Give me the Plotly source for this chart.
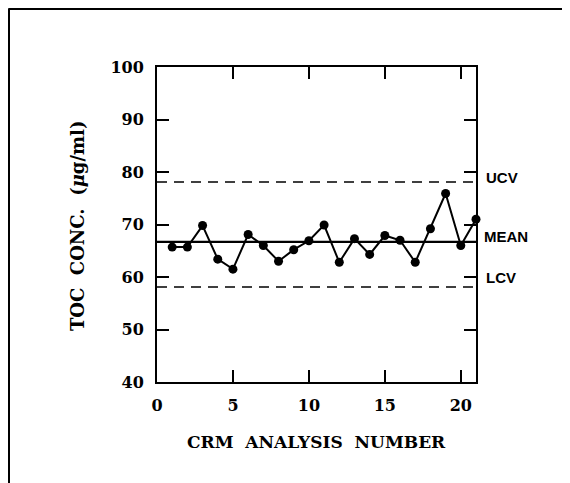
import plotly.graph_objects as go

analysis_number = list(range(1, 22))
toc_conc = [65.7, 65.7, 69.8, 63.4, 61.5, 68.1, 66.0, 63.0, 65.2, 66.9, 69.9,
            62.8, 67.3, 64.3, 67.9, 67.0, 62.8, 69.2, 75.9, 66.0, 71.0]
mean_value = 66.7
ucv_value = 78.1
lcv_value = 58.1
x_ticks = [0, 5, 10, 15, 20]
y_ticks = [40, 50, 60, 70, 80, 90, 100]
x_range = [0, 21]
y_range = [40, 100]

serif = "DejaVu Serif"
sans = "Liberation Sans, Arial, sans-serif"

# figure geometry (page has an 8px body margin)
W, H = 562, 475
L, R, T, B = 149, 94, 59, 101
PW, PH = W - L - R, H - T - B

fig = go.Figure()

for val, dash, w in [(ucv_value, "10px,7px", 1.5), (lcv_value, "10px,7px", 1.5),
                     (mean_value, "solid", 2.2)]:
    fig.add_trace(go.Scatter(x=x_range, y=[val, val], mode="lines",
                             line=dict(color="black", width=w, dash=dash),
                             hoverinfo="skip", showlegend=False))

fig.add_trace(go.Scatter(x=analysis_number, y=toc_conc, mode="lines+markers",
                         line=dict(color="black", width=2),
                         marker=dict(color="black", size=9),
                         showlegend=False, cliponaxis=False))

axis_common = dict(showline=True, linecolor="black", linewidth=2, mirror="ticks",
                   ticks="inside", ticklen=12, tickwidth=1.5, tickcolor="black",
                   showgrid=False, zeroline=False, ticklabelstandoff=8,
                   tickfont=dict(family=serif, size=16, color="black", weight="bold"))

fig.update_xaxes(range=x_range, tickvals=x_ticks, **axis_common)
fig.update_yaxes(range=y_range, tickvals=y_ticks, **axis_common)

annotations = [
    dict(text="UCV", y=ucv_value, xshift=8, yshift=4),
    dict(text="MEAN", y=mean_value, xshift=6, yshift=5),
    dict(text="LCV", y=lcv_value, xshift=8, yshift=9),
]
for a in annotations:
    a.update(x=1, xref="paper", yref="y", xanchor="left", yanchor="middle",
             showarrow=False,
             font=dict(family=sans, size=15, color="black", weight="bold"))

annotations.append(dict(text="CRM  ANALYSIS  NUMBER", x=0.5, xref="paper", y=-0.189,
                        yref="paper", xanchor="center", yanchor="middle", showarrow=False,
                        font=dict(family=serif, size=17, color="black", weight="bold")))
annotations.append(dict(text="TOC  CONC.  (<i>μ</i>g/ml)", x=(69 - L) / PW, xref="paper",
                        y=0.495, yref="paper", xanchor="center", yanchor="middle",
                        textangle=-90, showarrow=False,
                        font=dict(family=serif, size=18, color="black", weight="bold")))

fx = (0.5 - L) / PW
fy = (T + PH - 0.5) / PH
shapes = [
    dict(type="line", xref="paper", yref="paper", x0=fx, x1=2.0, y0=fy, y1=fy,
         line=dict(color="black", width=3)),
    dict(type="line", xref="paper", yref="paper", x0=fx, x1=fx, y0=fy, y1=-1.0,
         line=dict(color="black", width=3)),
]

fig.update_layout(width=W, height=H, margin=dict(l=L, r=R, t=T, b=B),
                  plot_bgcolor="white", paper_bgcolor="white",
                  annotations=annotations, shapes=shapes, showlegend=False)

fig.write_html("out.html")
